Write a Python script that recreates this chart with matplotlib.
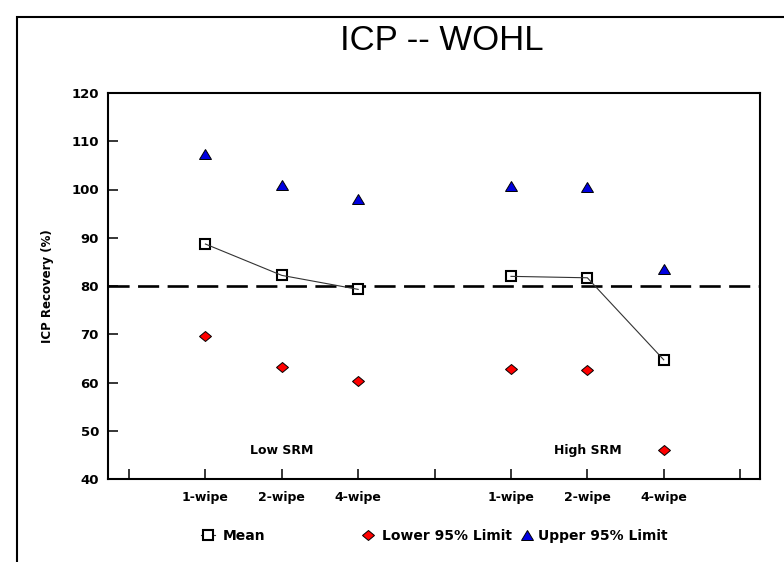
import matplotlib
matplotlib.use("Agg")
import matplotlib.pyplot as plt
from matplotlib.markers import MarkerStyle
from matplotlib.transforms import Affine2D
from matplotlib.patches import Rectangle
from matplotlib.lines import Line2D

# ---- data ----
groups = ["Low SRM", "High SRM"]
wipes = ["1-wipe", "2-wipe", "4-wipe"]
low_x = [1, 2, 3]
high_x = [5, 6, 7]
mean_low = [88.7, 82.2, 79.3]
mean_high = [82.0, 81.7, 64.7]
lower_low = [69.6, 63.2, 60.3]
lower_high = [62.9, 62.6, 46.0]
upper_low = [107.3, 100.9, 98.1]
upper_high = [100.8, 100.5, 83.6]
reference_level = 80
group_label_x = [2, 6]
group_label_y = 46
tick_positions = list(range(0, 9))
tick_labels = ["", "1-wipe", "2-wipe", "4-wipe", "", "1-wipe", "2-wipe", "4-wipe", ""]
yticks = [40, 50, 60, 70, 80, 90, 100, 110, 120]

W, H = 784, 562
fig = plt.figure(figsize=(W / 100, H / 100), dpi=100)
ax = fig.add_axes([108 / W, 1 - 479 / H, (760 - 108) / W, (479 - 93) / H])

bold = dict(family="DejaVu Sans", weight="bold")

diamond = MarkerStyle("D", transform=Affine2D().scale(1.0, 0.82))
triangle = MarkerStyle("^", transform=Affine2D().scale(1.0, 0.8))

ax.axhline(reference_level, color="black", lw=1.9, dashes=(8, 3.2), zorder=1)

for xs, mean, lo, up in [(low_x, mean_low, lower_low, upper_low),
                         (high_x, mean_high, lower_high, upper_high)]:
    ax.plot(xs, mean, ls="none", marker="s", ms=7.5, mfc="white", mec="black",
            mew=1.5, zorder=3)
    ax.plot(xs, mean, color="#333333", lw=0.8, zorder=4)
    ax.plot(xs, lo, ls="none", marker=diamond, ms=6, mfc="#ff0000", mec="black",
            mew=0.7, zorder=3)
    ax.plot(xs, up, ls="none", marker=triangle, ms=8.5, mfc="#0000e0", mec="black",
            mew=0.7, zorder=3)

for gx, g in zip(group_label_x, groups):
    ax.text(gx, group_label_y, g, ha="center", va="center", fontsize=9, **bold)

ax.set_xlim(-0.275, 8.26)
ax.set_ylim(40, 120)
ax.set_xticks(tick_positions)
ax.set_xticklabels(tick_labels)
ax.set_yticks(yticks)
ax.set_yticklabels([str(v) for v in yticks])
for lab in ax.get_xticklabels():
    lab.set_fontfamily("DejaVu Sans"); lab.set_fontweight("bold"); lab.set_fontsize(9)
for lab in ax.get_yticklabels():
    lab.set_fontfamily("DejaVu Sans"); lab.set_fontweight("bold"); lab.set_fontsize(9.5)
ax.tick_params(axis="both", direction="in", length=7.5, width=1.1)
ax.tick_params(axis="x", pad=9)
ax.tick_params(axis="y", pad=6.5)
for s in ax.spines.values():
    s.set_linewidth(1.5)

ax.set_ylabel("ICP Recovery (%)", fontsize=8.5, **bold)
ax.yaxis.set_label_coords(-(108 - 54) / (760 - 108), 0.5)

fig.text(442 / W, 1 - 41 / H, "ICP -- WOHL", ha="center", va="center",
         fontsize=25, family="Liberation Sans")

# outer frame (left and top edges visible)
fig.add_artist(Rectangle((17 / W, -0.5), 2.0, 0.5 + (1 - 17 / H), fill=False,
                         lw=1.5, edgecolor="black", transform=fig.transFigure,
                         clip_on=False))

# legend entries
h_mean = Line2D([], [], color="#333333", lw=0.8, marker="s", ms=7.5, mfc="white",
                mec="black", mew=1.5)
h_low = Line2D([], [], ls="none", marker=diamond, ms=6, mfc="#ff0000", mec="black", mew=0.7)
h_up = Line2D([], [], ls="none", marker=triangle, ms=8.5, mfc="#0000e0", mec="black", mew=0.7)
ly = 1 - 536 / H
for h, lab, x0, tp in [(h_mean, "Mean", 201, 0.6), (h_low, "Lower 95% Limit", 361, 0.5),
                       (h_up, "Upper 95% Limit", 520, 0.3)]:
    fig.legend(handles=[h], labels=[lab], loc="center left", bbox_to_anchor=(x0 / W, ly),
               frameon=False, handlelength=1.0, handletextpad=tp, borderpad=0,
               borderaxespad=0, prop=dict(family="DejaVu Sans", weight="bold", size=10))

fig.savefig("out.png", dpi=100)
